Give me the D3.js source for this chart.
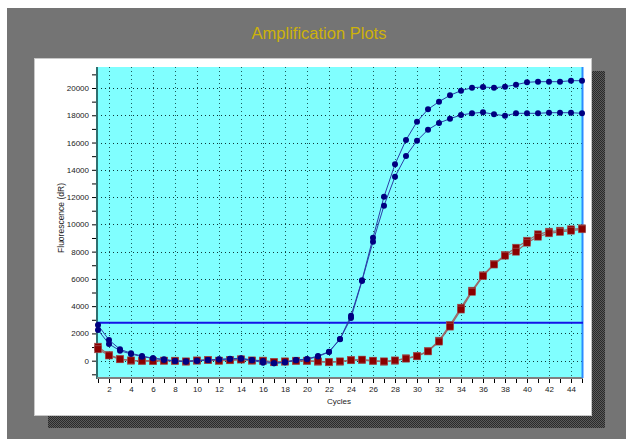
<!DOCTYPE html>
<html>
<head>
<meta charset="utf-8">
<script src="https://cdn.jsdelivr.net/npm/d3@7"></script>
<style>
  html, body { margin: 0; padding: 0; background: #ffffff; }
  svg { display: block; }
  text { font-family: "Liberation Sans", Arial, sans-serif; }
</style>
</head>
<body>
<svg id="chart" width="626" height="439"></svg>
<script>
// Amplification data: fluorescence (dR) per PCR cycle
const cycles = d3.range(1, 46);

const blueWellA = [2609, 1518, 836, 543, 345, 176, 103, -22, -73, 0,
  51, 103, 147, 176, 51, -22, -191, -117, 51, 125,
  345, 660, 1591, 3300, 5900, 9021, 12028, 14404, 16186, 17528,
  18438, 18995, 19465, 19802, 20022, 20073, 20022, 20095, 20242, 20418,
  20462, 20462, 20462, 20535, 20535];

const blueWellB = [2252, 1222, 733, 491, 293, 176, 51, -22, -50, 0,
  51, 80, 120, 150, 30, -147, -191, -117, 30, 100,
  300, 640, 1570, 3130, 5850, 8728, 11368, 13494, 15013, 16135,
  16942, 17433, 17748, 18020, 18144, 18218, 18071, 17968, 18144, 18144,
  18144, 18189, 18189, 18189, 18144];

const redWellA = [1027, 418, 125, 0, -22, -22, 0, -22, -73, 0,
  51, 0, 51, 103, 0, 0, -117, -73, -22, -22,
  -73, -117, -73, 51, 51, -22, -73, 0, 176, 345,
  711, 1467, 2618, 3887, 5134, 6263, 7092, 7752, 8287, 8800,
  9270, 9461, 9534, 9637, 9710];

const redWellB = [836, 380, 103, 20, 0, -22, 0, 0, -50, 20,
  51, 0, 30, 80, 20, 0, -90, -50, 0, 0,
  -50, -90, -50, 30, 80, 0, -50, 20, 150, 320,
  680, 1400, 2500, 3750, 5050, 6200, 7050, 7700, 7993, 8654,
  9094, 9343, 9440, 9534, 9637];

const threshold = 2790;

const yMajorTicks = [0, 2000, 4000, 6000, 8000, 10000, 12000, 14000, 16000, 18000, 20000];
const yMinorTicks = [-1000, 1000, 3000, 5000, 7000, 9000, 11000, 13000, 15000, 17000, 19000, 21000];
const xLabelTicks = d3.range(2, 45, 2);

const titleText = "Amplification Plots";
const xTitle = "Cycles";
const yTitle = "Fluorescence (dR)";

const svg = d3.select("#chart");

// pattern for the dithered drop shadow
const defs = svg.append("defs");
const pat = defs.append("pattern")
  .attr("id", "dither").attr("width", 2).attr("height", 2)
  .attr("patternUnits", "userSpaceOnUse");
pat.append("rect").attr("width", 2).attr("height", 2).attr("fill", "#5a5a5a");
pat.append("rect").attr("width", 1).attr("height", 1).attr("fill", "#2a2a2a");
pat.append("rect").attr("x", 1).attr("y", 1).attr("width", 1).attr("height", 1).attr("fill", "#2a2a2a");

// grey window panel
svg.append("rect").attr("x", 7).attr("y", 8).attr("width", 619).attr("height", 431)
  .attr("fill", "#747474");

// title
svg.append("text").attr("x", 319).attr("y", 39).attr("text-anchor", "middle")
  .attr("font-size", 16.5).attr("fill", "#cdb20a").text(titleText);

// drop shadow and white frame
svg.append("rect").attr("x", 48).attr("y", 71).attr("width", 557).attr("height", 357)
  .attr("fill", "url(#dither)");
svg.append("rect").attr("x", 34.5).attr("y", 58.5).attr("width", 557).attr("height", 357)
  .attr("fill", "#ffffff").attr("stroke", "#c8c8c8").attr("stroke-width", 1);

// plot area
const plotL = 97, plotR = 583, plotT = 67, plotB = 378;
const x = d3.scaleLinear().domain([1, 45]).range([98, 582]);
const y = d3.scaleLinear().domain([-1270, 21540]).range([plotB, plotT]);

svg.append("rect").attr("x", plotL).attr("y", plotT)
  .attr("width", plotR - plotL).attr("height", plotB - plotT).attr("fill", "#80ffff");

// dotted grid
const grid = svg.append("g");
grid.selectAll("line.h").data(yMajorTicks).join("line")
  .attr("x1", plotL).attr("x2", plotR)
  .attr("y1", d => Math.round(y(d)) + 0.5).attr("y2", d => Math.round(y(d)) + 0.5)
  .attr("stroke", "#103838").attr("stroke-width", 1).attr("stroke-dasharray", "1,3");
grid.selectAll("line.v").data(xLabelTicks).join("line")
  .attr("y1", plotT).attr("y2", plotB)
  .attr("x1", d => Math.round(x(d)) + 0.5).attr("x2", d => Math.round(x(d)) + 0.5)
  .attr("stroke", "#1d5a5a").attr("stroke-width", 1).attr("stroke-dasharray", "1,3");

// axes
const yAxis = svg.append("g").attr("transform", `translate(${plotL},0)`)
  .call(d3.axisLeft(y).tickValues(yMajorTicks).tickSize(5).tickPadding(3).tickFormat(d3.format("d")));
const yMinor = svg.append("g").attr("transform", `translate(${plotL},0)`)
  .call(d3.axisLeft(y).tickValues(yMinorTicks).tickSize(5).tickFormat(""));
const xAxis = svg.append("g").attr("transform", `translate(0,${plotB})`)
  .call(d3.axisBottom(x).tickValues(xLabelTicks).tickSize(5).tickPadding(3).tickFormat(d3.format("d")));
const xMinor = svg.append("g").attr("transform", `translate(0,${plotB})`)
  .call(d3.axisBottom(x).tickValues(cycles.filter(c => c % 2 === 1)).tickSize(5).tickFormat(""));

[yAxis, yMinor, xAxis, xMinor].forEach(g => {
  g.select(".domain").remove();
  g.selectAll(".tick line").attr("stroke", "#000");
  g.selectAll(".tick text").attr("font-size", 8).attr("fill", "#222")
    .attr("font-family", "'Liberation Sans', Arial, sans-serif");
});

// axis lines
svg.append("line").attr("x1", plotL).attr("x2", plotL).attr("y1", plotT).attr("y2", plotB + 1)
  .attr("stroke", "#2f6f6f").attr("stroke-width", 2);
svg.append("line").attr("x1", plotL).attr("x2", plotR).attr("y1", plotB).attr("y2", plotB)
  .attr("stroke", "#808080").attr("stroke-width", 2);
svg.append("line").attr("x1", plotR - 0.5).attr("x2", plotR - 0.5).attr("y1", plotT).attr("y2", plotB)
  .attr("stroke", "#2a8cff").attr("stroke-width", 2);

// axis titles
svg.append("text").attr("x", 339).attr("y", 404).attr("text-anchor", "middle")
  .attr("font-size", 8).attr("fill", "#222").text(xTitle);
svg.append("text").attr("transform", "translate(64,218) rotate(-90)").attr("text-anchor", "middle")
  .attr("font-size", 8.5).attr("fill", "#222").text(yTitle);

// threshold line
svg.append("line").attr("x1", plotL).attr("x2", plotR)
  .attr("y1", y(threshold)).attr("y2", y(threshold))
  .attr("stroke", "#1414e6").attr("stroke-width", 2);

// curves
const line = d3.line().x((d, i) => x(cycles[i])).y(d => y(d));

function drawRed(values) {
  svg.append("path").datum(values).attr("d", line)
    .attr("fill", "none").attr("stroke", "#9a6a6a").attr("stroke-width", 1.3);
}
function drawBlue(values) {
  svg.append("path").datum(values).attr("d", line)
    .attr("fill", "none").attr("stroke", "#2a3fa8").attr("stroke-width", 1);
}

drawRed(redWellA);
drawRed(redWellB);
[redWellA, redWellB].forEach(vals => {
  svg.append("g").selectAll("rect").data(vals).join("rect")
    .attr("x", (d, i) => x(cycles[i]) - 3.5).attr("y", d => y(d) - 3.5)
    .attr("width", 7).attr("height", 7)
    .attr("fill", "#8a0000").attr("stroke", "#a05a5a").attr("stroke-width", 0.6);
});

drawBlue(blueWellA);
drawBlue(blueWellB);
[blueWellA, blueWellB].forEach(vals => {
  svg.append("g").selectAll("circle").data(vals).join("circle")
    .attr("cx", (d, i) => x(cycles[i])).attr("cy", d => y(d))
    .attr("r", 3).attr("fill", "#000080");
});
</script>
</body>
</html>
